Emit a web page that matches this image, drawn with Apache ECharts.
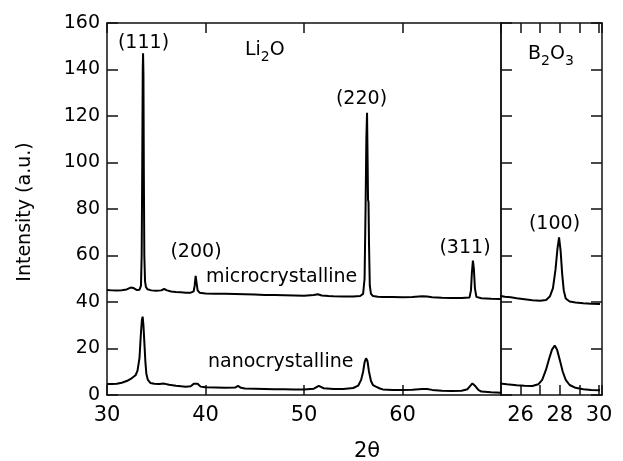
<!DOCTYPE html>
<html>
<head>
<meta charset="utf-8">
<script src="https://cdn.jsdelivr.net/npm/echarts@6/dist/echarts.min.js"></script>
<style>
  html, body { margin: 0; padding: 0; background: #fff; }
  #main { width: 623px; height: 461px; }
</style>
</head>
<body>
<div id="main"></div>
<script>
// Li2O panel, 2-theta vs intensity
var microLi2O = [
  [30.0, 45.2], [30.5, 45.0], [31.0, 44.9], [31.5, 45.1], [32.0, 45.4], [32.4, 46.2], [32.7, 46.0],
  [33.0, 45.2], [33.3, 45.3], [33.45, 47], [33.52, 60], [33.58, 100], [33.63, 140], [33.66, 147],
  [33.7, 138], [33.74, 95], [33.79, 60], [33.86, 49], [33.95, 46.5], [34.1, 45.5], [34.5, 45.0],
  [35.0, 44.8], [35.5, 45.0], [35.8, 45.6], [36.1, 45.0], [36.5, 44.5], [37.0, 44.3], [37.5, 44.2],
  [38.0, 44.0], [38.5, 44.0], [38.8, 44.6], [38.9, 47], [39.0, 51.2], [39.1, 48], [39.2, 45],
  [39.4, 44.0], [40, 43.7], [41, 43.6], [42, 43.5], [43, 43.4], [44, 43.3], [45, 43.2], [46, 43.0],
  [47, 43.0], [48, 42.9], [49, 42.8], [50, 42.7], [51, 43.0], [51.4, 43.3], [51.8, 42.8], [52.5, 42.6],
  [53, 42.5], [54, 42.4], [55, 42.4], [55.7, 42.6], [56.0, 43.5], [56.15, 50], [56.25, 80], [56.33, 110],
  [56.4, 121.4], [56.46, 100], [56.5, 84], [56.55, 83], [56.6, 65], [56.68, 47], [56.8, 43.5],
  [57.0, 42.6], [57.5, 42.3], [58, 42.2], [59, 42.1], [60, 42.0], [61, 42.1], [62.0, 42.5], [62.5, 42.4],
  [63, 42.0], [64, 41.8], [65, 41.7], [66, 41.7], [66.8, 41.9], [66.95, 45], [67.05, 53], [67.15, 57.8],
  [67.25, 54], [67.35, 46], [67.5, 42.2], [68, 41.6], [69, 41.4], [70, 41.3]
];
var nanoLi2O = [
  [30.0, 4.7], [30.5, 4.7], [31.0, 4.8], [31.5, 5.3], [32.0, 6.0], [32.5, 7.2], [32.9, 8.5], [33.1, 10.5],
  [33.3, 16], [33.45, 27], [33.55, 32.5], [33.62, 33.7], [33.7, 30], [33.8, 22], [33.9, 14], [34.0, 9],
  [34.15, 6.5], [34.4, 5.2], [34.8, 4.8], [35.3, 4.7], [35.8, 4.9], [36.3, 4.4], [37.0, 4.0], [37.5, 3.8],
  [38.0, 3.6], [38.5, 3.8], [38.8, 4.8], [39.0, 5.5], [39.2, 4.8], [39.5, 3.6], [40, 3.3], [41, 3.2],
  [42, 3.1], [43.0, 3.2], [43.3, 3.9], [43.6, 3.1], [44, 2.8], [45, 2.7], [46, 2.6], [47, 2.5], [48, 2.5],
  [49, 2.4], [50, 2.4], [51.0, 2.7], [51.5, 3.9], [52.0, 2.9], [53, 2.6], [54, 2.6], [55, 3.0], [55.5, 4.0],
  [55.8, 6.5], [56.0, 10], [56.15, 14], [56.3, 15.8], [56.45, 14.5], [56.6, 10], [56.8, 6], [57.0, 4.3],
  [57.3, 3.6], [57.7, 2.8], [58, 2.4], [59, 2.2], [60, 2.1], [61, 2.3], [62.0, 2.6], [62.5, 2.6], [63, 2.2],
  [64, 1.8], [65, 1.7], [66, 1.8], [66.6, 2.5], [66.9, 4.0], [67.1, 5.0], [67.35, 4.0], [67.7, 2.2],
  [68, 1.5], [69, 1.2], [70, 1.0]
];
// B2O3 panel
var microB2O3 = [
  [24.9, 42.7], [25.2, 42.3], [25.5, 42.0], [25.8, 41.6], [26.2, 41.2], [26.6, 40.8], [27.0, 40.5],
  [27.3, 40.9], [27.5, 42.5], [27.65, 46], [27.78, 54], [27.88, 63], [27.96, 67.8], [28.04, 62],
  [28.12, 52], [28.2, 45], [28.3, 41.5], [28.5, 40.2], [28.8, 39.8], [29.2, 39.5], [29.6, 39.3], [30.05, 39.1]
];
var nanoB2O3 = [
  [24.9, 5.0], [25.3, 4.6], [25.8, 4.2], [26.2, 4.0], [26.6, 3.9], [26.9, 4.6], [27.1, 6.5], [27.3, 11],
  [27.45, 15.5], [27.6, 19.5], [27.74, 21.3], [27.86, 19.5], [28.0, 15], [28.15, 10], [28.3, 6.5],
  [28.5, 4.3], [28.8, 3.1], [29.2, 2.5], [29.6, 2.2], [30.05, 2.0]
];
var leftRange = [30, 70];
var rightRange = [25, 30.15];
var yRange = [0, 160];

var FONT = 'DejaVu Sans';
var AX = '#111';

function xAx(grid, range, pos, labels) {
  return {
    type: 'value', gridIndex: grid, position: pos, min: range[0], max: range[1],
    interval: grid === 0 ? 10 : 1,
    axisLine: { show: true, onZero: false, lineStyle: { color: AX, width: 1.5 } },
    axisTick: { show: true, inside: true, length: 10, lineStyle: { color: AX, width: 1.5 } },
    axisLabel: {
      show: labels, fontSize: 21, color: '#000', fontFamily: FONT, margin: 10,
      showMaxLabel: grid === 1,
      formatter: function (v) {
        var r = Math.round(v);
        if (Math.abs(v - r) > 1e-6) return '';
        if (grid === 1 && r % 2 !== 0) return '';
        if (grid === 0 && r === 70) return '';
        return String(r);
      }
    },
    splitLine: { show: false }
  };
}
function yAx(grid, pos, labels, ticks) {
  return {
    type: 'value', gridIndex: grid, position: pos, min: yRange[0], max: yRange[1], interval: 20,
    axisLine: { show: true, onZero: false, lineStyle: { color: AX, width: 1.5 } },
    axisTick: { show: ticks, inside: true, length: 11, lineStyle: { color: AX, width: 1.5 } },
    axisLabel: { show: labels, fontSize: 19, color: '#000', fontFamily: FONT, margin: 7 },
    splitLine: { show: false }
  };
}
function line(data, xi, yi) {
  return {
    type: 'line', data: data, xAxisIndex: xi, yAxisIndex: yi, showSymbol: false,
    lineStyle: { color: '#000', width: 2 }, silent: true, clip: true
  };
}
function txt(s, x, y, size, align) {
  return {
    type: 'text', x: x, y: y, silent: true,
    style: { text: s, fontSize: size || 19, fontFamily: FONT, fill: '#000', align: align || 'center', verticalAlign: 'middle' }
  };
}
function chem(parts, x, y) {
  return {
    type: 'text', x: x, y: y, silent: true,
    style: {
      text: parts, fontFamily: FONT, fill: '#000', align: 'left', verticalAlign: 'middle',
      rich: {
        n: { fontSize: 19, fontFamily: FONT, lineHeight: 28, verticalAlign: 'middle' },
        s: { fontSize: 14, fontFamily: FONT, lineHeight: 14, verticalAlign: 'bottom' }
      }
    }
  };
}

var option = {
  animation: false,
  backgroundColor: '#fff',
  grid: [
    { left: 107, top: 23, width: 394, height: 372 },
    { left: 501, top: 23, width: 101, height: 372 }
  ],
  xAxis: [
    xAx(0, leftRange, 'bottom', true),
    xAx(0, leftRange, 'top', false),
    xAx(1, rightRange, 'bottom', true),
    xAx(1, rightRange, 'top', false)
  ],
  yAxis: [
    yAx(0, 'left', true, true),
    yAx(0, 'right', false, false),
    yAx(1, 'left', false, true),
    yAx(1, 'right', false, true)
  ],
  series: [
    line(microLi2O, 0, 0),
    line(nanoLi2O, 0, 0),
    line(microB2O3, 2, 2),
    line(nanoB2O3, 2, 2)
  ],
  graphic: [
    txt('(111)', 143.5, 43),
    txt('(200)', 196, 252),
    txt('(220)', 361.5, 99.5),
    txt('(311)', 465, 248.5),
    txt('(100)', 554.5, 224),
    txt('microcrystalline', 206, 277, 19, 'left'),
    txt('nanocrystalline', 208, 362, 19, 'left'),
    chem('{n|Li}{s|2}{n|O}', 245, 50),
    chem('{n|B}{s|2}{n|O}{s|3}', 528, 54),
    txt('2θ', 367, 452, 21),
    {
      type: 'text', x: 25, y: 212, rotation: Math.PI / 2, silent: true,
      style: { text: 'Intensity (a.u.)', fontSize: 19, fontFamily: FONT, fill: '#000', align: 'center', verticalAlign: 'middle' }
    }
  ]
};

var myChart = echarts.init(document.getElementById('main'), null, { renderer: 'canvas' });
myChart.setOption(option);
</script>
</body>
</html>
